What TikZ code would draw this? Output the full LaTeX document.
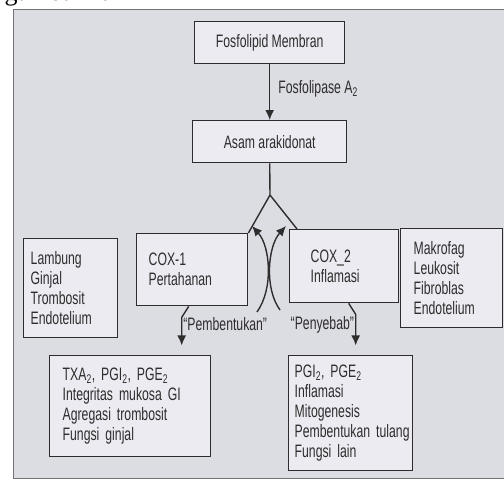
\documentclass[tikz,border=0pt]{standalone}
\usepackage{fontspec}
\setmainfont{Liberation Sans}[FakeStretch=0.68]
\newfontfamily\headfont{Liberation Serif}
\usetikzlibrary{arrows.meta}
\definecolor{panel}{RGB}{220,220,227}
\definecolor{paper}{RGB}{236,235,241}
\definecolor{ink}{RGB}{45,45,45}

\begin{document}
\begin{tikzpicture}[x=1pt, y=-1pt, line width=1.4pt, color=ink,
  font=\fontsize{18}{20}\selectfont,
  box/.style={draw=ink, fill=paper, anchor=north west, inner sep=0pt},
  arr/.style={-{Latex[length=10pt,width=9pt]}}]
  \useasboundingbox (0,0) rectangle (504,482);
  \fill[white] (0,0) rectangle (504,482);
  \draw[fill=panel, draw=black!55, line width=1pt] (13,9) rectangle (520,478);
  \node[anchor=base west, inner sep=0pt, text=black,
    font=\headfont\fontsize{26}{26}\selectfont] (cap) at (4,0) {gambar 4.};

  \node[box, minimum width=150pt, minimum height=42pt] (fos) at (194,21) {Fosfolipid Membran};
  \node[box, minimum width=154pt, minimum height=42pt] (asam) at (192,120) {Asam arakidonat};
  \node[box, align=left, inner xsep=7pt, text width=80pt, minimum height=99pt] (organ) at (23,238)
    {Lambung\\Ginjal\\Trombosit\\Endotelium};
  \node[box, align=left, inner xsep=12pt, text width=87pt, minimum height=72pt] (cox1) at (136,233)
    {COX-1\\Pertahanan};
  \node[box, align=left, inner xsep=21pt, text width=67pt, minimum height=73pt] (cox2) at (289,229)
    {COX\_2\\Inflamasi};
  \node[box, align=left, inner xsep=13pt, text width=76pt, minimum height=99pt] (sel) at (400,228)
    {Makrofag\\Leukosit\\Fibroblas\\Endotelium};
  \node[box, align=left, inner xsep=13pt, text width=135pt, minimum height=101pt] (efek1) at (49,355)
    {TXA\textsubscript{2}, PGI\textsubscript{2}, PGE\textsubscript{2}\\Integritas mukosa GI\\Agregasi trombosit\\Fungsi ginjal};
  \node[box, align=left, inner xsep=6pt, text width=112pt, minimum height=115pt] (efek2) at (288,355)
    {PGI\textsubscript{2}, PGE\textsubscript{2}\\Inflamasi\\Mitogenesis\\\mbox{Pembentukan tulang}\\Fungsi lain};

  \draw[arr] (fos.south) -- node[pos=0.44, right=8pt, inner sep=0pt] {Fosfolipase A\textsubscript{2}} (asam.north);

  \coordinate (v) at (270,195);
  \draw (asam.south) -- (v) -- (cox1.north east);
  \draw (v) -- ([xshift=8pt]cox2.north west);

  \coordinate (p1) at (257,312);
  \coordinate (q1) at (252,226);
  \coordinate (p2) at (280,310);
  \coordinate (q2) at (286,226);
  \draw[arr] (p1) .. controls (274,288) and (270,246) .. (q1);
  \draw[arr] (p2) .. controls (264,288) and (268,246) .. (q2);

  \draw[arr] ([xshift=-3.5pt]cox1.south) -- ++(-7,11)
    -- node[pos=0.25, anchor=west, inner sep=1pt] {“Pembentukan”} ++(0,28);
  \draw[arr] ([xshift=4.5pt]cox2.south) -- ++(7,11)
    -- node[pos=0.33, anchor=east, inner sep=1pt] {“Penyebab”} ++(0,31);
\end{tikzpicture}
\end{document}
